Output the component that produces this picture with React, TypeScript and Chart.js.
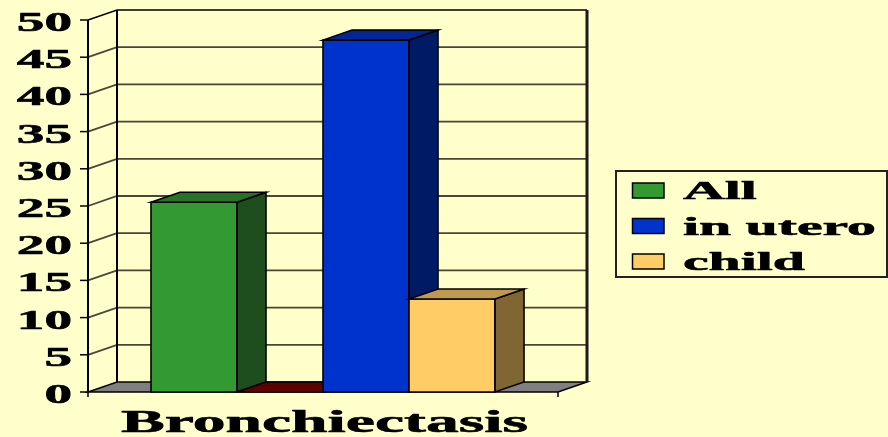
import React, { useEffect, useRef } from 'react';
import { Chart, registerables } from 'chart.js';

Chart.register(...registerables);

// ---- data ----
const categories = ['Bronchiectasis'];
const seriesLabels = ['All', '', 'in utero', 'child'];
const seriesValues = [25.5, 0, 47.3, 12.5];
const yMin = 0;
const yMax = 50;
const yStep = 5;

// ---- styles ----
const frontColors = ['#339933', '#800000', '#0033CC', '#FFCC66'];
const sideColors = ['#1E4D1E', '#400000', '#001A66', '#806633'];
const topColors = ['#267326', '#600000', '#002699', '#BF994D'];
const BG = '#FFFFCC';
const DX = 29;
const DY = -10;
const FONT = '"Liberation Serif", "Times New Roman", serif';

function stretchedText(ctx: CanvasRenderingContext2D, text: string, x: number, y: number, align: CanvasTextAlign, size: number, sx: number) {
  ctx.save();
  ctx.translate(x, y);
  ctx.scale(sx, 1);
  ctx.font = `bold ${size}px ${FONT}`;
  ctx.fillStyle = '#000';
  ctx.strokeStyle = '#000';
  ctx.lineWidth = 0.6;
  ctx.lineJoin = 'round';
  ctx.textAlign = align;
  ctx.textBaseline = 'alphabetic';
  ctx.fillText(text, 0, 0);
  ctx.strokeText(text, 0, 0);
  ctx.restore();
}

function poly(ctx: CanvasRenderingContext2D, pts: number[][], fill: string | null, stroke: string | null, lw = 1.5) {
  ctx.beginPath();
  ctx.moveTo(pts[0][0], pts[0][1]);
  for (let i = 1; i < pts.length; i++) ctx.lineTo(pts[i][0], pts[i][1]);
  ctx.closePath();
  if (fill) { ctx.fillStyle = fill; ctx.fill(); }
  if (stroke) { ctx.strokeStyle = stroke; ctx.lineWidth = lw; ctx.lineJoin = 'miter'; ctx.stroke(); }
}

const bg3d = {
  id: 'bg3d',
  beforeDraw(chart: any) {
    const ctx = chart.ctx;
    ctx.save();
    ctx.fillStyle = BG;
    ctx.fillRect(0, 0, chart.width, chart.height);
    ctx.restore();
  },
  beforeDatasetsDraw(chart: any) {
    const ctx: CanvasRenderingContext2D = chart.ctx;
    const { left, right, top, bottom } = chart.chartArea;
    const ys = chart.scales.y;
    ctx.save();
    // floor
    poly(ctx, [[left, bottom], [right, bottom], [right + DX, bottom + DY], [left + DX, bottom + DY]], '#808080', '#000', 1.5);
    // gridlines on side + back wall
    ys.ticks.forEach((t: any) => {
      const v = t.value;
      if (v <= yMin) return;
      const yv = ys.getPixelForValue(v);
      ctx.beginPath();
      ctx.moveTo(left, yv);
      ctx.lineTo(left + DX, yv + DY);
      ctx.lineTo(right + DX, yv + DY);
      ctx.strokeStyle = v >= yMax ? '#000' : '#484838';
      ctx.lineWidth = v >= yMax ? 1.5 : 1.8;
      ctx.stroke();
    });
    // back wall left & right edges
    ctx.strokeStyle = '#000';
    ctx.lineWidth = 2;
    ctx.beginPath();
    ctx.moveTo(left + DX, bottom + DY);
    ctx.lineTo(left + DX, top + DY);
    ctx.stroke();
    ctx.lineWidth = 3;
    ctx.strokeStyle = '#1a1a1a';
    ctx.beginPath();
    ctx.moveTo(right + DX, bottom + DY);
    ctx.lineTo(right + DX, top + DY);
    ctx.stroke();
    // front value axis with tick marks
    ctx.strokeStyle = '#000';
    ctx.lineWidth = 2;
    ctx.beginPath();
    ctx.moveTo(left, bottom + 1);
    ctx.lineTo(left, ys.getPixelForValue(yMax));
    ctx.stroke();
    ctx.lineWidth = 1.5;
    ys.ticks.forEach((t: any) => {
      const yv = ys.getPixelForValue(t.value);
      ctx.beginPath();
      ctx.moveTo(left - 8, yv);
      ctx.lineTo(left, yv);
      ctx.stroke();
      stretchedText(ctx, String(t.value), left - 16, yv + 11, 'right', 28, 1.97);
    });
    // category axis ticks
    ctx.beginPath();
    ctx.moveTo(left, bottom);
    ctx.lineTo(left, bottom + 5);
    ctx.moveTo(right, bottom);
    ctx.lineTo(right, bottom + 5);
    ctx.stroke();
    ctx.restore();
  },
  beforeDatasetDraw() {
    return false;
  },
  afterDatasetsDraw(chart: any) {
    const ctx: CanvasRenderingContext2D = chart.ctx;
    ctx.save();
    chart.data.datasets.forEach((ds: any, i: number) => {
      const meta = chart.getDatasetMeta(i);
      meta.data.forEach((bar: any) => {
        const x0 = bar.x - bar.width / 2;
        const x1 = bar.x + bar.width / 2;
        const yt = bar.y;
        const yb = bar.base;
        if (yb - yt > 0.5) {
          poly(ctx, [[x0, yt], [x1, yt], [x1, yb], [x0, yb]], frontColors[i], '#000', 1.6);
          poly(ctx, [[x1, yt], [x1 + DX, yt + DY], [x1 + DX, yb + DY], [x1, yb]], sideColors[i], '#000', 1.6);
        }
        poly(ctx, [[x0, yt], [x1, yt], [x1 + DX, yt + DY], [x0 + DX, yt + DY]], topColors[i], '#000', 1.6);
      });
    });
    ctx.restore();
  },
  afterDraw(chart: any) {
    const ctx: CanvasRenderingContext2D = chart.ctx;
    const xs = chart.scales.x;
    ctx.save();
    // category title
    categories.forEach((c, i) => {
      stretchedText(ctx, c, xs.getPixelForValue(i) + 1.5, 432, 'center', 32, 2.05);
    });
    // legend
    ctx.strokeStyle = '#222';
    ctx.lineWidth = 2;
    ctx.strokeRect(616, 171, 271, 106);
    let row = 0;
    chart.data.datasets.forEach((ds: any, i: number) => {
      if (!ds.label) return;
      const cy = 190.5 + row * 35.5;
      ctx.fillStyle = frontColors[i];
      ctx.fillRect(632.5, cy - 7.5, 31.5, 15);
      ctx.strokeStyle = '#000';
      ctx.lineWidth = 1.5;
      ctx.strokeRect(632.5, cy - 7.5, 31.5, 15);
      stretchedText(ctx, ds.label, 683, cy + 8.5, 'left', 26, 2.22);
      row++;
    });
    ctx.restore();
  },
};

export default function App() {
  const ref = useRef<HTMLCanvasElement | null>(null);
  useEffect(() => {
    document.body.style.margin = '0';
    const canvas = ref.current;
    if (!canvas) return;
    const chart = new Chart(canvas, {
      type: 'bar',
      data: {
        labels: categories,
        datasets: seriesValues.map((v, i) => ({
          label: seriesLabels[i],
          data: [v],
          backgroundColor: frontColors[i],
          borderWidth: 0,
          barPercentage: 1,
          categoryPercentage: 0.732,
        })),
      },
      options: {
        animation: false,
        responsive: false,
        maintainAspectRatio: false,
        devicePixelRatio: 1,
        layout: { padding: { left: 88, right: 330, top: 20, bottom: 45 } },
        plugins: { legend: { display: false }, tooltip: { enabled: false }, title: { display: false } },
        scales: {
          x: { display: false, offset: true },
          y: { display: false, min: yMin, max: yMax, ticks: { stepSize: yStep } },
        },
        events: [],
      },
      plugins: [bg3d],
    });
    return () => chart.destroy();
  }, []);
  return (
    <div style={{ width: 888, height: 437, background: BG }}>
      <canvas ref={ref} width={888} height={437} style={{ display: 'block' }} />
    </div>
  );
}
